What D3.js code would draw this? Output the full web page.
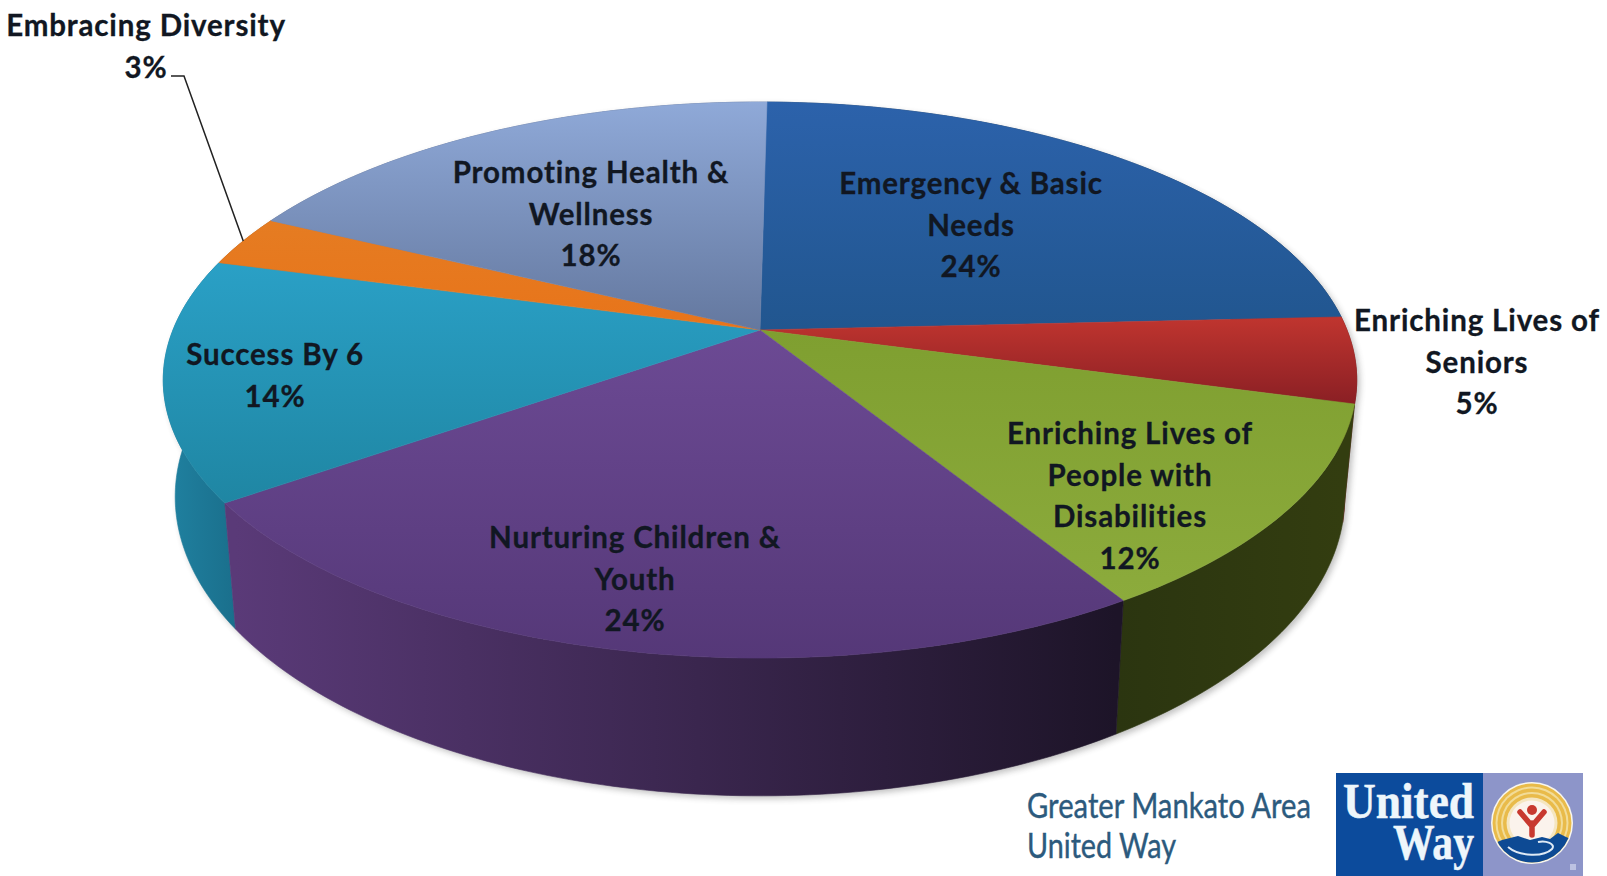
<!DOCTYPE html>
<html>
<head>
<meta charset="utf-8">
<title>Greater Mankato Area United Way allocations</title>
<script src="https://cdn.jsdelivr.net/npm/d3@7"></script>
<style>
  html, body { margin: 0; padding: 0; background: #fff; }
  svg { display: block; }
  text { font-family: Lato, "Open Sans", sans-serif; }
  text.serif { font-family: "Liberation Serif", serif; }
</style>
</head>
<body>
<svg id="chart" width="1607" height="876"></svg>
<script>
// Funding areas, clockwise from twelve o'clock
const categories = [
  "Emergency & Basic Needs",
  "Enriching Lives of Seniors",
  "Enriching Lives of People with Disabilities",
  "Nurturing Children & Youth",
  "Success By 6",
  "Embracing Diversity",
  "Promoting Health & Wellness"
];
const shares = [24, 5, 12, 24, 14, 3, 18];

// How each category name wraps inside its label
const labelLines = [
  ["Emergency & Basic", "Needs"],
  ["Enriching Lives of", "Seniors"],
  ["Enriching Lives of", "People with", "Disabilities"],
  ["Nurturing Children &", "Youth"],
  ["Success By 6"],
  ["Embracing Diversity"],
  ["Promoting Health &", "Wellness"]
];

// Surface fills: [start colour, end colour], vertical on top, horizontal on the wall
const topFills = [
  ["#2c62ab", "#21568f"],
  ["#c0352f", "#8a1f24"],
  ["#7f9f30", "#8cab3c"],
  ["#6c4a94", "#553878"],
  ["#2aa0c6", "#1f86a3"],
  ["#e57c22", "#e8741a"],
  ["#8fa9d8", "#64789f"]
];
const wallFills = [
  ["#1c3c60", "#1c3c60"],
  ["#6e1a1c", "#6e1a1c"],
  ["#2b3510", "#333d10"],
  ["#5a3a78", "#1d1428"],
  ["#1f7f9e", "#1a6f8c"],
  ["#a85610", "#a85610"],
  ["#55668a", "#55668a"]
];

// Label centres for each slice, in page pixels
const labelCentres = [
  [971, 184], [1477, 321], [1130, 434], [635, 538], [275, 355], [146, 26], [591, 173]
];
const labelLineGap = 41.5;

const svg = d3.select("#chart");
const defs = svg.append("defs");

// Perspective view of a tilted disc: v runs from far (-1) to near (+1)
const apexX = 760, apexY = 330;
const halfWidth = 587, halfDepth = 269, foreshorten = 0.18;
const wallDrop = 113, wallShrink = 0.98;
const firstSliceAngle = 0.8 * Math.PI / 180;

function rimPoint(angle, drop, shrink) {
  const u = Math.sin(angle), v = -Math.cos(angle);
  const w = 1 - foreshorten * v;
  return [
    apexX + shrink * halfWidth * u / w,
    apexY + (halfDepth * v + drop) / w
  ];
}
function arcSamples(d, drop, shrink) {
  const n = Math.max(8, Math.ceil((d.endAngle - d.startAngle) * 60));
  return d3.range(n + 1).map(i =>
    rimPoint(d.startAngle + (d.endAngle - d.startAngle) * i / n, drop, shrink));
}

const pie = d3.pie().sort(null).value(d => d)
  .startAngle(firstSliceAngle).endAngle(firstSliceAngle + 2 * Math.PI);
const slices = pie(shares);
const outline = d3.line().curve(d3.curveLinear);

// Colour ramps, spanned over each slice's own extent on the page
slices.forEach((d, i) => {
  const rim = arcSamples(d, 0, 1).concat([[apexX, apexY]]);
  const yr = d3.extent(rim, p => p[1]);
  const tg = defs.append("linearGradient")
    .attr("id", "top" + i).attr("gradientUnits", "userSpaceOnUse")
    .attr("x1", 0).attr("x2", 0).attr("y1", yr[0]).attr("y2", yr[1]);
  tg.append("stop").attr("offset", 0).attr("stop-color", topFills[i][0]);
  tg.append("stop").attr("offset", 1).attr("stop-color", topFills[i][1]);

  const wr = d3.extent(arcSamples(d, wallDrop, wallShrink), p => p[0]);
  const wg = defs.append("linearGradient")
    .attr("id", "wall" + i).attr("gradientUnits", "userSpaceOnUse")
    .attr("y1", 0).attr("y2", 0).attr("x1", wr[0]).attr("x2", wr[1]);
  wg.append("stop").attr("offset", 0).attr("stop-color", wallFills[i][0]);
  wg.append("stop").attr("offset", 1).attr("stop-color", wallFills[i][1]);
});

const soft = defs.append("filter").attr("id", "soft")
  .attr("x", "-5%").attr("y", "-5%").attr("width", "110%").attr("height", "110%");
soft.append("feGaussianBlur").attr("stdDeviation", 3);

const wallPath = d => {
  const top = arcSamples(d, 0, 1);
  const bottom = arcSamples(d, wallDrop, wallShrink).reverse();
  return outline(top.concat(bottom)) + "Z";
};

// Faint contact shadow hugging the wall
svg.append("g").attr("filter", "url(#soft)").attr("opacity", 0.3)
  .attr("transform", "translate(3,3)")
  .selectAll("path").data(slices).join("path")
  .attr("d", wallPath).attr("fill", "#333");

// Walls back to front, then the top surface over them
const depthOrder = d3.range(slices.length).sort((a, b) =>
  -Math.cos((slices[a].startAngle + slices[a].endAngle) / 2) -
  -Math.cos((slices[b].startAngle + slices[b].endAngle) / 2));

svg.append("g").selectAll("path").data(depthOrder).join("path")
  .attr("d", i => wallPath(slices[i]))
  .attr("fill", i => `url(#wall${i})`)
  .attr("stroke", i => `url(#wall${i})`).attr("stroke-width", 0.6);

svg.append("g").selectAll("path").data(slices).join("path")
  .attr("d", d => outline([[apexX, apexY]].concat(arcSamples(d, 0, 1))) + "Z")
  .attr("fill", (d, i) => `url(#top${i})`)
  .attr("stroke", (d, i) => `url(#top${i})`).attr("stroke-width", 0.6);

// Leader line for the small slice whose label sits outside the pie
const leaderAngle = (slices[5].startAngle + slices[5].endAngle) / 2;
const leaderEnd = rimPoint(leaderAngle, 0, 1);
svg.append("path")
  .attr("d", outline([[171, 76], [184, 76], leaderEnd]))
  .attr("fill", "none").attr("stroke", "#222").attr("stroke-width", 1.5);

// Slice labels: wrapped name followed by its share
const labels = svg.append("g").selectAll("text").data(slices).join("text")
  .attr("text-anchor", "middle")
  .attr("font-size", 29.5).attr("font-weight", 700)
  .attr("letter-spacing", 0.85)
  .attr("fill", "#111722").attr("stroke", "#111722").attr("stroke-width", 0.3);
labels.each(function (d, i) {
  const lines = labelLines[i].concat(d.value + "%");
  d3.select(this).selectAll("tspan").data(lines).join("tspan")
    .attr("x", labelCentres[i][0])
    .attr("y", (l, j) => labelCentres[i][1] + j * labelLineGap + 10)
    .text(l => l);
});

// Organisation name and logo, lower right
const brand = svg.append("g");
const brandText = brand.append("g").attr("fill", "#2c5a7d").attr("font-size", 34)
  .attr("stroke", "#2c5a7d").attr("stroke-width", 0.4);
brandText.append("text").attr("x", 1027).attr("y", 818).attr("textLength", 284)
  .attr("lengthAdjust", "spacingAndGlyphs").text("Greater Mankato Area");
brandText.append("text").attr("x", 1027).attr("y", 858).attr("textLength", 149)
  .attr("lengthAdjust", "spacingAndGlyphs").text("United Way");

brand.append("rect").attr("x", 1336).attr("y", 773).attr("width", 147).attr("height", 103).attr("fill", "#0c4b9c");
brand.append("rect").attr("x", 1483).attr("y", 773).attr("width", 100).attr("height", 103).attr("fill", "#8d95c9");
brand.append("rect").attr("x", 1570).attr("y", 864).attr("width", 6).attr("height", 6).attr("fill", "#bcc2e2");
const logoWords = brand.append("g").attr("fill", "#eef6fb").attr("stroke", "#eef6fb").attr("stroke-width", 0.5)
  .attr("font-size", 50).attr("font-weight", 700);
logoWords.append("text").attr("class", "serif").attr("x", 1343).attr("y", 818).attr("textLength", 131)
  .attr("lengthAdjust", "spacingAndGlyphs").text("United");
logoWords.append("text").attr("class", "serif").attr("x", 1393).attr("y", 859).attr("textLength", 81)
  .attr("lengthAdjust", "spacingAndGlyphs").text("Way");

const emblem = brand.append("g").attr("transform", "translate(1532,823)");
defs.append("clipPath").attr("id", "emblemClip").append("circle").attr("r", 39.5);
const rings = [[41, "#f8f6ee"], [39.5, "#e9bb4a"], [36.5, "#f2dc98"], [34.5, "#e9bb4a"], [31, "#f2dc98"], [29, "#e9bb4a"], [25.5, "#f5e6c0"], [22.5, "#fbf3ec"]];
emblem.selectAll("circle").data(rings).join("circle")
  .attr("r", d => d[0]).attr("fill", d => d[1]);
const emblemInner = emblem.append("g").attr("clip-path", "url(#emblemClip)");
emblemInner.append("path")
  .attr("d", "M-42,22 L-30,17 L-14,13 L-2,17 L10,14 L18,16 L26,10 L34,14 L44,18 L44,44 L-42,44 Z")
  .attr("fill", "#0d4a94");
emblemInner.append("path")
  .attr("d", "M-24,24 C-12,34 12,34 20,26 C24,21 14,17 6,19")
  .attr("fill", "none").attr("stroke", "#dfeaf5").attr("stroke-width", 2);
emblem.append("circle").attr("cy", -13).attr("r", 5).attr("fill", "#c8392f");
emblem.append("path")
  .attr("d", "M-12,-11 L0,3 L12,-11 M0,0 L0,12")
  .attr("fill", "none").attr("stroke", "#c8392f").attr("stroke-width", 5.5).attr("stroke-linecap", "round");
</script>
</body>
</html>
